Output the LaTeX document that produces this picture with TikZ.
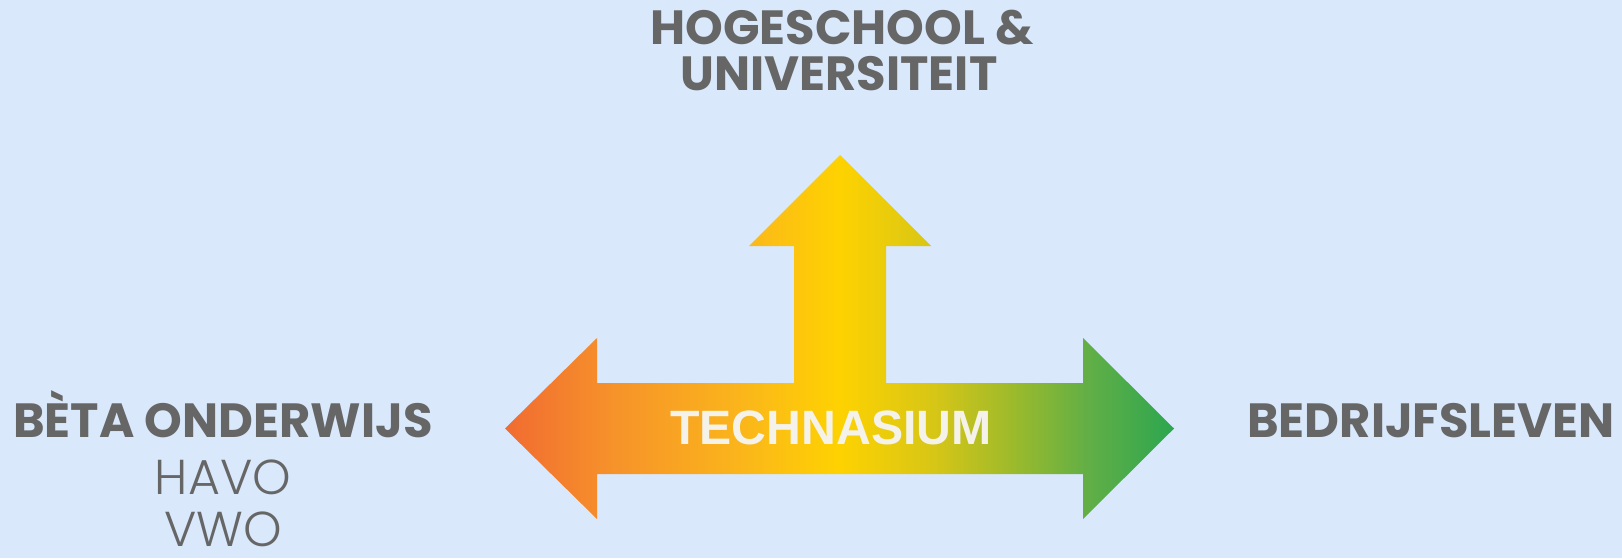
\documentclass[tikz,border=0pt]{standalone}
\usepackage{fontspec}
\setmainfont{Poppins}
\newfontfamily\poplight{Poppins}[UprightFont={* Light}]
\newfontfamily\techfont{Liberation Sans}

\definecolor{bgblue}{HTML}{D9E8FB}
\definecolor{txtgrey}{HTML}{666666}
\definecolor{techwhite}{HTML}{F5F2EA}
\definecolor{g0}{HTML}{F16B31}
\definecolor{g1}{HTML}{F6922A}
\definecolor{g2}{HTML}{FBB71A}
\definecolor{g3}{HTML}{FED201}
\definecolor{g4}{HTML}{D7C616}
\definecolor{g5}{HTML}{9CBA2C}
\definecolor{g6}{HTML}{62AF46}
\definecolor{g7}{HTML}{2CA64F}

\pgfdeclarehorizontalshading{techgrad}{100bp}{color(0bp)=(g0); color(25bp)=(g0);
  color(33bp)=(g1); color(43bp)=(g2); color(50bp)=(g3); color(57bp)=(g4);
  color(63bp)=(g5); color(68.5bp)=(g6); color(75bp)=(g7); color(100bp)=(g7)}

\tikzset{
  head/.style={text=txtgrey,font=\fontsize{24}{27}\selectfont\bfseries,anchor=base,inner sep=0pt},
  sub/.style={text=txtgrey,font=\fontsize{24.5}{27}\selectfont\poplight,anchor=base,inner sep=0pt},
}

\begin{document}
\begin{tikzpicture}[x=0.5pt,y=-0.5pt]

\fill[bgblue] (0,0) rectangle (1622,558);

% T-shaped arrow, one shading across the whole shape
\shade[shading=techgrad] (505,428.5) -- (597,338) -- (597,383) -- (794,383) -- (794,246)
  -- (749,246) -- (840,155) -- (931,246) -- (886,246) -- (886,383) -- (1083,383)
  -- (1083,338) -- (1174,428.5) -- (1083,519) -- (1083,474) -- (597,474) -- (597,519) -- cycle;

\node[anchor=base,inner sep=0pt,text=techwhite,font=\fontsize{24.1}{27}\selectfont\techfont\bfseries] (T) at (831,444) {TECHNASIUM};

\node[head] (H1) at (842,44) {HOGESCHOOL \&};
\node[head] (H2) at (839,90) {UNIVERSITEIT};

\node[head] (B) at (223,437) {BÈTA ONDERWIJS};
\node[sub] (HV) at (223,494) {HAVO};
\node[sub] (VW) at (223,546) {VWO};

\node[head] (R) at (1431,437) {BEDRIJFSLEVEN};

\end{tikzpicture}
\end{document}
